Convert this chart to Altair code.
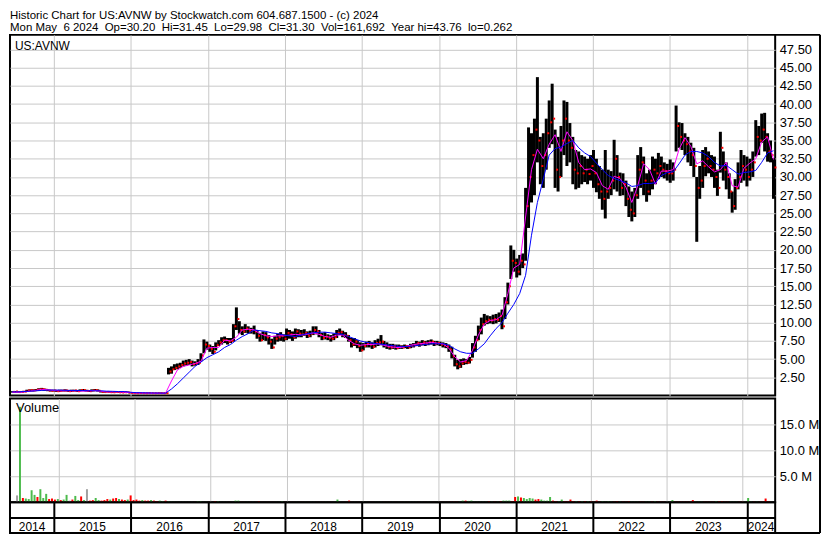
import altair as alt
import numpy as np
import pandas as pd

FONT = "Liberation Sans"

header_lines = [
    "Historic Chart for US:AVNW by Stockwatch.com 604.687.1500 - (c) 2024",
    "Mon May \u00a06 2024 \u00a0Op=30.20 \u00a0Hi=31.45 \u00a0Lo=29.98 \u00a0Cl=31.30 \u00a0Vol=161,692 \u00a0Year hi=43.76 \u00a0lo=0.262",
]
symbol_label = "US:AVNW"
volume_label = "Volume"
year_labels = [2014, 2015, 2016, 2017, 2018, 2019, 2020, 2021, 2022, 2023, 2024]
price_ticks = [2.5, 5, 7.5, 10, 12.5, 15, 17.5, 20, 22.5, 25, 27.5, 30, 32.5, 35, 37.5, 40, 42.5, 45, 47.5]
vol_ticks = [5, 10, 15]
last_day = "2024-05-06"

# bi-weekly bars (low, high, close)
lo = [0.40, 0.38, 0.40, 0.42, 0.45,
      0.50, 0.55, 0.55, 0.60,
      0.65, 0.70, 0.65,
      0.60, 0.55, 0.55, 0.50, 0.50, 0.55, 0.55, 0.50, 0.50, 0.55, 0.50, 0.55, 0.60, 0.55, 0.50, 0.55,
      0.60, 0.55,
      0.42, 0.40, 0.42, 0.40, 0.38, 0.40, 0.38, 0.35, 0.36, 0.35,
      0.30, 0.28, 0.27, 0.28, 0.27, 0.26, 0.27, 0.28, 0.27, 0.26, 0.27, 0.28, 0.27,
      2.9, 3.0, 3.5, 3.6, 3.8, 4.0, 4.1, 4.2, 4.0, 4.1,
      4.2, 4.7, 5.8, 6.3, 6.0, 5.7, 6.2, 6.8, 7.0, 7.2,
      7.0, 7.2, 7.4, 9.0, 8.5, 8.3, 8.6, 8.5, 8.5, 8.4,
      7.8, 7.4, 7.6, 7.5, 7.0, 6.4, 7.0, 7.4, 7.5, 7.4,
      7.6, 7.8, 7.5, 7.8, 8.0, 8.0, 8.2, 7.9, 8.0, 8.3,
      8.4, 8.0, 7.6, 7.7, 7.6, 7.4, 7.6, 7.9, 8.3, 8.0,
      7.9, 7.4, 6.6, 6.8, 6.5, 6.0, 6.2, 6.6, 6.6, 6.4,
      6.6, 6.8, 6.9, 6.6, 6.4, 6.3, 6.4, 6.3, 6.4, 6.4,
      6.5, 6.4, 6.5, 6.6, 6.8, 6.7, 6.9, 6.8, 6.9, 7.0,
      6.8, 6.9, 6.8, 6.6, 6.5, 6.0, 5.1, 4.0, 3.6, 3.8,
      4.2, 4.3, 4.4, 5.2, 6.0, 7.6, 8.4, 9.6, 9.8, 9.9,
      9.8, 9.9, 10.1, 9.1, 10.5, 12.5, 16.0, 17.0, 16.2, 16.5,
      17.5, 18.5, 23.0, 26.5, 27.5, 32.0, 29.0, 28.5, 31.0, 34.0,
      34.5, 28.5, 28.0, 30.0, 33.0, 31.5, 32.0, 29.0, 28.3, 28.5,
      29.0, 29.3, 29.0, 29.5, 28.5, 27.9, 27.0, 25.5, 24.3, 27.0,
      27.5, 28.3, 28.0, 27.4, 27.5, 26.0, 24.5, 23.9, 24.5, 27.0,
      28.5, 27.5, 26.6, 27.5, 28.3, 29.0, 29.7, 30.0, 29.8, 29.5,
      29.2, 29.5, 33.5, 34.0, 33.7, 33.0, 32.0, 31.5, 30.0, 21.1,
      27.0, 28.5, 30.1, 30.5, 30.0, 28.5, 27.4, 30.6, 29.5, 28.3,
      27.0, 25.1, 25.5, 28.3, 29.2, 29.5, 28.7, 29.5, 30.0, 32.8,
      33.0, 34.7, 33.5, 32.1, 32.0, 27.0]
hi = [0.60, 0.62, 0.58, 0.60, 0.65,
      0.80, 0.85, 0.85, 0.90,
      1.00, 1.05, 0.95,
      0.85, 0.80, 0.80, 0.75, 0.80, 0.80, 0.85, 0.75, 0.80, 0.80, 0.75, 0.85, 0.90, 0.80, 0.75, 0.85,
      0.90, 0.85,
      0.62, 0.60, 0.60, 0.58, 0.55, 0.58, 0.55, 0.52, 0.55, 0.55,
      0.45, 0.42, 0.40, 0.42, 0.40, 0.40, 0.42, 0.40, 0.40, 0.40, 0.42, 0.40, 0.40,
      3.8, 4.0, 4.3, 4.4, 4.5, 4.8, 4.9, 5.0, 4.8, 4.7,
      5.0, 5.8, 7.7, 7.4, 7.0, 6.8, 7.3, 7.6, 8.0, 8.1,
      7.9, 7.9, 9.8, 12.1, 10.2, 9.5, 9.8, 9.5, 9.3, 9.6,
      9.0, 8.6, 8.8, 8.7, 8.3, 7.8, 8.2, 8.5, 8.7, 8.4,
      9.2, 9.0, 8.8, 9.2, 9.1, 9.0, 9.1, 8.8, 8.9, 9.5,
      9.5, 9.0, 8.6, 8.7, 8.4, 8.3, 8.5, 9.0, 9.2, 8.9,
      8.7, 8.3, 7.9, 7.9, 7.6, 7.3, 7.2, 7.4, 7.5, 7.3,
      7.6, 7.8, 8.3, 7.5, 7.3, 7.1, 7.1, 7.0, 7.0, 6.9,
      7.0, 6.9, 7.1, 7.2, 7.5, 7.4, 7.6, 7.5, 7.6, 7.7,
      7.5, 7.5, 7.4, 7.3, 7.2, 7.0, 6.7, 5.6, 4.9, 5.0,
      5.1, 5.0, 5.3, 7.2, 8.2, 9.6, 10.7, 11.2, 11.0, 10.9,
      11.1, 11.2, 11.4, 11.8, 13.5, 15.5, 20.6, 20.0, 18.8, 19.3,
      19.5, 28.5, 36.8, 36.0, 38.0, 43.7, 35.5, 36.0, 38.0, 40.5,
      42.8, 36.5, 35.5, 37.0, 40.5, 40.3, 37.4, 35.5, 33.7, 33.5,
      33.0, 32.8, 32.5, 33.0, 33.7, 32.5, 31.5, 31.0, 33.7, 31.0,
      30.8, 35.1, 33.0, 30.6, 30.5, 29.5, 28.7, 28.0, 28.5, 33.0,
      34.1, 32.8, 30.5, 31.0, 32.8, 32.5, 33.3, 32.8, 32.0, 31.8,
      32.4, 32.0, 39.8, 37.5, 37.4, 36.0, 35.5, 34.7, 34.0, 30.0,
      31.5, 33.7, 34.1, 33.5, 33.0, 32.8, 31.0, 36.2, 33.5, 32.0,
      30.5, 28.0, 29.7, 32.0, 33.7, 33.0, 32.8, 32.5, 33.5, 37.8,
      37.0, 38.7, 38.8, 36.0, 35.0, 32.6]
cl = [0.50, 0.55, 0.48, 0.50, 0.55,
      0.70, 0.75, 0.70, 0.80,
      0.85, 0.90, 0.80,
      0.70, 0.65, 0.70, 0.60, 0.65, 0.70, 0.70, 0.60, 0.65, 0.70, 0.60, 0.75, 0.75, 0.65, 0.60, 0.70,
      0.75, 0.65,
      0.50, 0.48, 0.50, 0.46, 0.45, 0.48, 0.44, 0.42, 0.45, 0.42,
      0.35, 0.33, 0.32, 0.34, 0.32, 0.31, 0.33, 0.32, 0.31, 0.32, 0.33, 0.31, 0.32,
      3.3, 3.6, 3.8, 4.0, 4.2, 4.4, 4.5, 4.6, 4.3, 4.4,
      4.5, 5.5, 7.0, 6.8, 6.4, 6.0, 6.9, 7.3, 7.6, 7.6,
      7.4, 7.5, 9.5, 10.5, 9.0, 8.8, 9.2, 8.9, 9.0, 8.8,
      8.2, 7.6, 8.3, 8.0, 7.4, 6.6, 7.8, 8.0, 8.2, 7.8,
      8.6, 8.4, 8.0, 8.8, 8.5, 8.4, 8.6, 8.2, 8.5, 9.0,
      8.8, 8.3, 7.9, 8.1, 7.9, 7.8, 8.0, 8.6, 8.7, 8.3,
      8.2, 7.6, 7.0, 7.4, 6.8, 6.2, 6.8, 7.1, 7.0, 6.7,
      7.2, 7.3, 7.4, 6.9, 6.7, 6.6, 6.8, 6.5, 6.7, 6.6,
      6.8, 6.6, 6.8, 6.9, 7.2, 7.0, 7.3, 7.1, 7.3, 7.4,
      7.1, 7.2, 7.0, 6.9, 6.8, 6.3, 5.4, 4.3, 4.0, 4.4,
      4.6, 4.5, 4.9, 6.6, 7.6, 9.0, 9.8, 10.2, 10.4, 10.3,
      10.5, 10.4, 10.9, 9.5, 12.8, 15.0, 18.5, 18.2, 17.0, 18.5,
      18.0, 26.0, 30.0, 33.0, 36.5, 35.0, 31.5, 33.0, 36.0, 37.5,
      38.0, 31.0, 30.0, 35.0, 38.0, 35.0, 34.0, 31.0, 30.5, 31.5,
      30.5, 31.0, 30.4, 31.5, 30.5, 29.0, 28.0, 27.0, 28.0, 28.5,
      29.5, 32.5, 30.0, 28.5, 29.0, 27.0, 25.5, 25.0, 27.5, 31.0,
      32.0, 29.5, 28.0, 29.5, 31.0, 30.5, 31.5, 31.0, 30.8, 30.5,
      30.5, 31.0, 37.0, 35.5, 35.0, 34.5, 33.5, 33.0, 31.5, 28.5,
      29.5, 31.5, 32.5, 31.5, 31.0, 30.0, 28.5, 34.0, 31.0, 30.0,
      28.0, 26.0, 28.5, 30.0, 31.5, 31.0, 30.0, 31.0, 32.0, 35.5,
      35.0, 36.5, 35.5, 33.5, 33.0, 31.3]
# volume in millions of shares
vol = [1.3, 18.4, 0.8, 0.7, 0.6, 2.3, 1.4, 1.0, 2.5, 0.8, 1.6, 0.6, 0.7, 0.5, 0.6,
       0.4, 0.5, 1.4, 0.3, 0.5, 1.2, 0.4, 1.1, 0.4, 2.5, 0.3, 0.4, 0.8, 0.4, 0.3,
       0.4, 0.6, 0.5, 0.7, 0.8, 0.6, 0.5, 0.4, 0.5, 1.3, 0.4, 0.5, 0.3, 0.4, 0.3,
       0.3, 0.4, 0.3, 0.2, 0.3, 0.2, 0.3, 0.2,
       0.1, 0.08, 0.06, 0.05, 0.06, 0.05, 0.05, 0.06, 0.05, 0.2,
       0.2, 0.06, 0.08, 0.05, 0.05, 0.2, 0.2, 0.05, 0.05, 0.05,
       0.05, 0.05, 0.3, 0.3, 0.06, 0.05, 0.05, 0.05, 0.05, 0.05,
       0.2, 0.05, 0.05, 0.05, 0.05, 0.05, 0.05, 0.05, 0.2, 0.05,
       0.05, 0.05, 0.05, 0.05, 0.05, 0.05, 0.05, 0.05, 0.05, 0.05,
       0.05, 0.05, 0.05, 0.05, 0.05, 0.05, 0.05, 0.5, 0.05, 0.05,
       0.05, 0.3, 0.05, 0.05, 0.05, 0.05, 0.05, 0.05, 0.05, 0.05,
       0.05, 0.05, 0.05, 0.05, 0.05, 0.05, 0.05, 0.05, 0.05, 0.05,
       0.05, 0.05, 0.05, 0.05, 0.05, 0.05, 0.05, 0.05, 0.05, 0.05,
       0.05, 0.05, 0.05, 0.05, 0.05, 0.06, 0.08, 0.1, 0.1, 0.08,
       0.3, 0.3, 0.25, 0.3, 0.1, 0.1, 0.08, 0.08, 0.1, 0.2,
       0.1, 0.1, 0.1, 0.2, 0.3, 0.3, 0.3, 0.2, 1.0, 1.1,
       0.9, 0.8, 0.6, 0.8, 0.7, 0.5, 0.6, 0.5, 0.3, 0.3,
       1.0, 0.3, 0.2, 0.2, 0.5, 0.2, 0.2, 0.5, 0.2, 0.2,
       0.2, 0.2, 0.2, 0.2, 0.2, 0.1, 0.3, 0.1, 0.2, 0.1,
       0.2, 0.1, 0.1, 0.2, 0.1, 0.1, 0.1, 0.2, 0.1, 0.1,
       0.1, 0.1, 0.1, 0.1, 0.1, 0.1, 0.2, 0.1, 0.1, 0.1,
       0.1, 0.1, 0.4, 0.1, 0.1, 0.1, 0.1, 0.1, 0.1, 0.4,
       0.1, 0.1, 0.1, 0.1, 0.1, 0.1, 0.1, 0.2, 0.2, 0.2,
       0.1, 0.1, 0.1, 0.1, 0.1, 0.1, 0.1, 0.1, 0.8, 0.1,
       0.1, 0.1, 0.1, 0.1, 0.7, 0.16]
# moving averages (every second bar)
ma_fast = [0.45, 0.45, 0.5, 0.6, 0.7, 0.85, 0.8, 0.7, 0.65, 0.65,
           0.65, 0.65, 0.6, 0.65, 0.7, 0.6, 0.5, 0.5, 0.5, 0.45,
           0.4, 0.35, 0.35, 0.33, 0.32, 0.32, 0.32, 2.0, 3.5, 4.0,
           4.2, 4.4, 4.7, 6.5, 6.6, 6.6, 7.6, 7.5, 8.0, 9.0,
           9.1, 9.0, 8.5, 8.2, 8.1, 8.2, 8.2, 8.3, 8.4, 8.3,
           8.4, 8.6, 8.4, 8.1, 8.0, 8.3, 8.3, 7.6, 7.1, 6.9,
           7.0, 7.0, 7.1, 6.9, 6.7, 6.6, 6.6, 6.8, 7.0, 7.1,
           7.2, 7.3, 7.2, 7.1, 6.5, 5.3, 4.6, 4.8, 6.2, 8.3,
           9.8, 10.3, 10.4, 11.0, 14.0, 17.5, 18.0, 24.5, 31.0, 33.8,
           32.5, 34.5, 35.8, 33.5, 36.2, 35.0, 32.0, 31.0, 31.1, 30.6,
           28.8, 28.3, 30.1, 29.8, 28.6, 26.5, 28.8, 31.8, 31.0, 29.0,
           30.8, 30.8, 31.0, 33.8, 35.4, 34.2, 31.8, 32.2, 31.4, 30.7,
           31.0, 32.0, 28.8, 28.6, 31.2, 31.9, 32.5, 34.8, 35.5, 32.4]
ma_slow = [0.5, 0.5, 0.55, 0.6, 0.65, 0.7, 0.75, 0.75, 0.75, 0.72,
           0.7, 0.7, 0.68, 0.66, 0.65, 0.65, 0.6, 0.58, 0.55, 0.55,
           0.45, 0.4, 0.38, 0.36, 0.35, 0.34, 0.33, 0.9, 1.6, 2.4,
           3.2, 4.0, 4.6, 5.2, 5.6, 6.0, 6.6, 7.0, 7.6, 8.1,
           8.5, 9.0, 8.9, 8.8, 8.6, 8.5, 8.3, 8.2, 8.1, 8.3,
           8.5, 8.6, 8.7, 8.7, 8.6, 8.5, 8.4, 8.1, 7.8, 7.5,
           7.3, 7.2, 7.1, 7.0, 6.9, 6.8, 6.7, 6.75, 6.8, 6.9,
           7.0, 7.1, 7.1, 7.1, 6.9, 6.4, 6.0, 5.8, 5.8, 6.4,
           7.1, 8.2, 9.2, 10.0, 11.3, 12.5, 14.0, 16.5, 22.0, 26.5,
           29.7, 33.0, 33.9, 34.1, 34.6, 35.0, 34.0, 33.3, 32.8, 31.9,
           31.0, 30.2, 29.8, 29.5, 29.2, 28.7, 28.8, 29.1, 29.1, 29.2,
           30.2, 30.6, 30.7, 31.8, 33.0, 33.5, 33.5, 33.3, 32.8, 32.0,
           31.5, 31.6, 31.0, 30.4, 30.6, 30.7, 30.9, 32.0, 33.3, 33.6]

assert len(lo) == len(hi) == len(cl) == len(vol) == 259, (len(lo), len(hi), len(cl), len(vol))
assert len(ma_fast) == len(ma_slow) == 130

dates = pd.date_range(end=last_day, periods=len(lo), freq="14D")
df = pd.DataFrame({"date": dates, "lo": lo, "hi": hi, "cl": cl, "vol": vol})
prev = df["cl"].shift(1)
df["dir"] = np.where(df["cl"] > prev, "up", np.where(df["cl"] < prev, "down", "flat"))
ma = pd.DataFrame({"date": dates[::2], "fast": ma_fast, "slow": ma_slow})

d0 = pd.Timestamp("2014-06-06")
d1 = pd.Timestamp("2024-05-14")
mids = []
for y in year_labels:
    a = max(pd.Timestamp(year=y, month=1, day=1), d0)
    b = min(pd.Timestamp(year=y + 1, month=1, day=1), d1)
    mids.append(a + (b - a) / 2)
band_df = pd.DataFrame({"mid": mids, "label": [str(y) for y in year_labels]})

# layout (pixels)
W, HP, HV, HB, GAP = 768, 362, 104, 31, 3
RIGHT = W + 45
one = pd.DataFrame({"a": [0]})

xs = alt.Scale(domain=[alt.DateTime(year=2014, month=6, date=6), alt.DateTime(year=2024, month=5, date=14)])
ys = alt.Scale(domain=[0, 49.5], nice=False, zero=False)
vs = alt.Scale(domain=[0, 20], nice=False)
year_bounds = [alt.DateTime(year=y, month=1, date=1) for y in year_labels[1:]]


def grid_axis(color="#c8c8c8", width=1):
    return alt.Axis(values=year_bounds, tickCount=20, grid=True, gridColor=color, gridWidth=width,
                    labels=False, ticks=False, domain=False, title=None)


def xenc(field="date:T", axis=None):
    if axis is None:
        return alt.X(field, scale=xs, title=None)
    return alt.X(field, scale=xs, axis=axis)


def txt(text, x, y, size, baseline="top", align="left"):
    return alt.Chart(pd.DataFrame({"t": [text]})).mark_text(
        font=FONT, fontSize=size, color="black", align=align, baseline=baseline
    ).encode(x=alt.value(x), y=alt.value(y), text="t:N")


def hrule(x, x2, y, w=2):
    return alt.Chart(one).mark_rule(color="black", strokeWidth=w).encode(
        x=alt.value(x), x2=alt.value(x2), y=alt.value(y))


def vrule(x, y, y2, w=2):
    return alt.Chart(one).mark_rule(color="black", strokeWidth=w).encode(
        x=alt.value(x), y=alt.value(y), y2=alt.value(y2))


closes = alt.Chart(df).mark_square(size=4, color="red", opacity=1, xOffset=2).encode(
    x=xenc(), y=alt.Y("cl:Q", scale=ys, title=None))
bars = alt.Chart(df).mark_rule(color="black", strokeWidth=3).encode(
    x=xenc(axis=grid_axis()),
    y=alt.Y("lo:Q", scale=ys, axis=alt.Axis(orient="right", values=price_ticks, tickCount=40, format=".2f",
                                            grid=True, gridColor="#c8c8c8", ticks=False, domain=False,
                                            labelPadding=4, labelOverlap=False, title=None)),
    y2="hi:Q",
)
fast = alt.Chart(ma).mark_line(color="#ff00ff", strokeWidth=1).encode(
    x=xenc(), y=alt.Y("fast:Q", scale=ys, title=None))
slow = alt.Chart(ma).mark_line(color="#0000ff", strokeWidth=1).encode(
    x=xenc(), y=alt.Y("slow:Q", scale=ys, title=None))

price = alt.layer(
    bars, closes, fast, slow,
    txt(symbol_label, 5, 6, 12),
    txt(header_lines[0], 0, -16, 11.5, baseline="alphabetic"),
    txt(header_lines[1], 0, -3.5, 11.5, baseline="alphabetic"),
    hrule(W, RIGHT, 0),
    vrule(RIGHT, 0, HP + GAP + HV + HB),
).properties(width=W, height=HP, view=alt.ViewBackground(stroke="black", strokeWidth=2))

vbars = alt.Chart(df).mark_bar(size=2).encode(
    x=xenc(axis=grid_axis()),
    y=alt.Y("vol:Q", scale=vs, axis=alt.Axis(orient="right", values=vol_ticks, tickCount=10,
                                             labelExpr="format(datum.value, '.1f') + ' M'",
                                             grid=True, gridColor="#c8c8c8", ticks=False, domain=False,
                                             labelPadding=4, title=None)),
    color=alt.Color("dir:N", scale=alt.Scale(domain=["up", "down", "flat"],
                                             range=["#4cbb4c", "#ff0000", "#a0a0a0"]), legend=None),
)
volume = alt.layer(vbars, txt(volume_label, 6, 4, 13)).properties(
    width=W, height=HV, view=alt.ViewBackground(stroke="black", strokeWidth=2))

band_text = alt.Chart(band_df).mark_text(font=FONT, fontSize=12, color="black", baseline="alphabetic",
                                         align="center").encode(
    x=xenc("mid:T", axis=grid_axis("black", 2)), y=alt.value(28.5), text="label:N")
band = alt.layer(band_text, hrule(0, W, 16), hrule(W, RIGHT, HB)).properties(
    width=W, height=HB, view=alt.ViewBackground(stroke="black", strokeWidth=2))

lower = alt.vconcat(volume, band, spacing=0, bounds="flush")
chart = alt.vconcat(price, lower, spacing=GAP, bounds="flush").properties(padding=0).configure_axis(
    labelFont=FONT, labelFontSize=13, labelColor="black")

chart.save("out.html", embed_options={"renderer": "svg", "actions": False})
